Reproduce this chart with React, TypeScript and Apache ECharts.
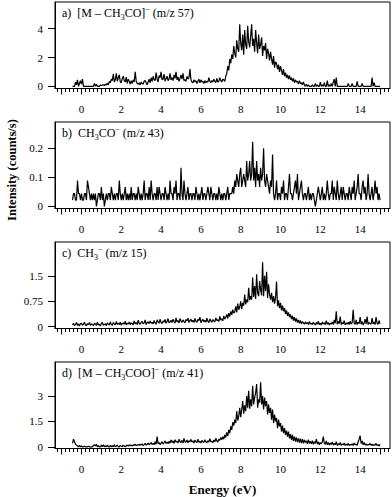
import React, { useEffect, useRef } from "react";
import * as echarts from "echarts";

// Energy grid of the spectra (eV)
const ENERGY_START = -0.45;
const ENERGY_STEP = 0.05;

// a) [M - CH3CO]- (m/z 57)
const intensityA = [
  0, 0, 0, 0.3, 0.1, 0.45, 0, 0.2, 0.4, 0.15, 0.5, 0, 0, 0, 0, 0, 0, 0, 0, 0,
  0, 0, 0.2, 0, 0.15, 0, 0, 0, 0.1, 0.05, 0.1, 0.1, 0.05, 0.15, 0.1, 0.2, 0.1, 0.35, 0.25, 0.5,
  0.4, 0.85, 0.3, 0.45, 0.9, 0.35, 0.6, 0.8, 0.3, 0.25, 0.55, 0.7, 0.4, 0.3, 0.65, 0.2, 0.5, 0.35, 0.15, 0.4,
  0.2, 0.45, 0.3, 1.0, 0.35, 0.2, 0.15, 0.25, 0.1, 0.3, 0.2, 0.15, 0.35, 0.4, 0.25, 0.1, 0.3, 0.5, 0.25, 0.6,
  0.35, 0.7, 0.45, 0.4, 0.95, 0.5, 0.3, 0.75, 0.6, 1.0, 0.45, 0.5, 0.85, 0.35, 0.55, 0.7, 0.4, 0.5, 0.9, 0.45,
  0.6, 0.4, 0.8, 0.55, 1.0, 0.45, 0.65, 0.35, 0.55, 0.8, 0.5, 0.9, 0.4, 0.45, 0.35, 0.7, 0.5, 0.6, 1.2, 0.45,
  0.3, 0.25, 0.45, 0.3, 0.4, 0.2, 0.35, 0.5, 0.25, 0.45, 0.3, 0.35, 0.2, 0.4, 0.25, 0.35, 0.3, 0.6, 0.35, 0.25,
  0.4, 0.3, 0.5, 0.35, 0.25, 0.55, 0.3, 0.35, 0.6, 0.4, 0.3, 0.5, 0.45, 0.35, 0.7, 0.9, 1.4, 1.1, 1.9, 1.6,
  2.2, 1.9, 2.8, 2.3, 2.0, 3.2, 2.6, 2.4, 4.3, 3.0, 2.5, 3.6, 2.2, 3.9, 2.9, 2.6, 4.2, 3.1, 2.7, 3.5,
  4.3, 2.8, 3.3, 2.4, 3.9, 3.0, 2.3, 3.6, 2.6, 2.9, 3.4, 2.1, 2.8, 2.5, 3.0, 1.9, 2.6, 2.3, 1.8, 2.4,
  1.9, 1.5, 2.1, 1.3, 1.7, 1.6, 1.2, 1.5, 1.0, 1.4, 1.1, 0.8, 1.2, 0.7, 0.95, 0.6, 0.8, 0.5, 0.75, 0.45,
  0.6, 0.35, 0.55, 0.25, 0.45, 0.3, 0.35, 0.15, 0.4, 0.2, 0.25, 0.1, 0.3, 0.1, 0, 0.15, 0, 0.1, 0, 0,
  0, 0.1, 0, 0, 0.2, 0, 0.1, 0, 0, 0.3, 0, 0.1, 0, 0.25, 0, 0, 0.4, 0, 0.1, 0,
  0.2, 0, 0.3, 0.5, 0, 0.6, 0, 0, 0, 0, 0, 0, 0, 0, 0, 0, 0, 0.2, 0, 0,
  0, 0.2, 0, 0, 0, 0, 0.35, 0, 0, 0, 0, 0.2, 0, 0, 0, 0, 0, 0, 0, 0,
  0, 0.6, 0, 0.25, 0, 0, 0, 0, 0, 0,
];

// b) CH3CO- (m/z 43)
const intensityB = [
  0.022, 0.044, 0.044, 0.022, 0.022, 0.089, 0.044, 0.044, 0.022, 0.044, 0.022, 0.022, 0.044, 0.044, 0.022, 0.089, 0.067, 0.044, 0.022, 0.044,
  0.022, 0.044, 0.022, 0.044, 0, 0.022, 0.044, 0.044, 0.022, 0.067, 0.022, 0.044, 0, 0.022, 0.044, 0.022, 0.044, 0.044, 0.022, 0.067,
  0.044, 0.022, 0.044, 0.022, 0.044, 0.044, 0.022, 0.089, 0.044, 0.022, 0.044, 0.022, 0.044, 0.067, 0.022, 0.044, 0.022, 0.044, 0.022, 0.067,
  0.022, 0.044, 0.044, 0.022, 0.044, 0.022, 0.067, 0.044, 0.022, 0.044, 0.022, 0.044, 0.089, 0.022, 0.044, 0.044, 0.022, 0.067, 0.022, 0.089,
  0.044, 0.022, 0.044, 0.044, 0.022, 0.067, 0.022, 0.067, 0.044, 0.022, 0.044, 0.044, 0.022, 0.067, 0.044, 0.022, 0.044, 0.022, 0.089, 0.044,
  0.044, 0.022, 0.067, 0.044, 0.089, 0.022, 0.044, 0.044, 0.022, 0.133, 0.044, 0.022, 0.089, 0.044, 0.022, 0.044, 0.067, 0.022, 0.044, 0.044,
  0.022, 0.044, 0.044, 0.022, 0.067, 0.044, 0.022, 0.044, 0.022, 0.044, 0.067, 0.022, 0.044, 0.044, 0.022, 0.044, 0.067, 0.044, 0.022, 0.067,
  0.044, 0.022, 0.044, 0.044, 0.022, 0.044, 0.022, 0.067, 0.044, 0.022, 0.044, 0.022, 0.044, 0.044, 0.022, 0.044, 0.067, 0.022, 0.044, 0.044,
  0.044, 0.067, 0.044, 0.089, 0.067, 0.111, 0.089, 0.067, 0.111, 0.133, 0.067, 0.089, 0.111, 0.089, 0.067, 0.156, 0.089, 0.111, 0.156, 0.089,
  0.111, 0.222, 0.089, 0.133, 0.067, 0.156, 0.089, 0.111, 0.067, 0.133, 0.089, 0.111, 0.2, 0.089, 0.067, 0.111, 0.089, 0.067, 0.044, 0.089,
  0.067, 0.178, 0.044, 0.022, 0.044, 0.089, 0.022, 0.044, 0.044, 0.022, 0.067, 0.044, 0.089, 0.022, 0.044, 0.044, 0.022, 0.067, 0.111, 0.044,
  0.044, 0.022, 0.044, 0.067, 0.089, 0.044, 0.111, 0.022, 0.044, 0.067, 0.089, 0.044, 0.022, 0.044, 0.044, 0.022, 0.044, 0.067, 0.022, 0.044,
  0.022, 0.044, 0.044, 0.022, 0, 0.022, 0.044, 0.067, 0.044, 0.022, 0.044, 0.067, 0.022, 0.044, 0.022, 0.044, 0.089, 0.044, 0.022, 0.044,
  0.044, 0.089, 0.022, 0.067, 0.044, 0.022, 0.089, 0.044, 0.022, 0.044, 0.067, 0.022, 0.067, 0.044, 0.022, 0.044, 0.044, 0.022, 0.067, 0.044,
  0.022, 0.067, 0.044, 0.089, 0.022, 0.044, 0.067, 0.111, 0.044, 0.044, 0.022, 0.067, 0.089, 0.044, 0.067, 0.022, 0.044, 0.111, 0.044, 0.022,
  0.044, 0.067, 0.022, 0.044, 0.089, 0.044, 0.067, 0.022, 0.044, 0.022,
];

// c) CH3- (m/z 15)
const intensityC = [
  0.05, 0.1, 0.03, 0.06, 0.12, 0.04, 0.08, 0.02, 0.09, 0.1, 0.04, 0.07, 0.13, 0.05, 0.03, 0.09, 0.06, 0.12, 0.04, 0.08,
  0.06, 0.03, 0.1, 0.08, 0.04, 0.13, 0.05, 0.07, 0.02, 0.1, 0.12, 0.04, 0.06, 0.09, 0.03, 0.11, 0.07, 0.05, 0.14, 0.06,
  0.04, 0.12, 0.08, 0.05, 0.15, 0.07, 0.1, 0.06, 0.13, 0.04, 0.09, 0.11, 0.07, 0.16, 0.05, 0.1, 0.08, 0.14, 0.06, 0.11,
  0.09, 0.05, 0.17, 0.08, 0.12, 0.06, 0.19, 0.1, 0.07, 0.13, 0.15, 0.08, 0.11, 0.2, 0.06, 0.12, 0.14, 0.09, 0.17, 0.1,
  0.13, 0.08, 0.18, 0.11, 0.07, 0.2, 0.14, 0.1, 0.22, 0.12, 0.09, 0.17, 0.13, 0.21, 0.1, 0.15, 0.24, 0.11, 0.14, 0.19,
  0.12, 0.22, 0.15, 0.1, 0.26, 0.14, 0.18, 0.11, 0.24, 0.16, 0.13, 0.2, 0.15, 0.11, 0.21, 0.17, 0.25, 0.12, 0.18, 0.22,
  0.14, 0.19, 0.12, 0.24, 0.16, 0.13, 0.21, 0.18, 0.28, 0.12, 0.17, 0.22, 0.14, 0.19, 0.13, 0.25, 0.16, 0.12, 0.23, 0.17,
  0.13, 0.21, 0.17, 0.14, 0.26, 0.18, 0.2, 0.15, 0.3, 0.19, 0.23, 0.17, 0.32, 0.22, 0.27, 0.36, 0.24, 0.4, 0.3, 0.45,
  0.35, 0.5, 0.4, 0.44, 0.6, 0.42, 0.68, 0.5, 0.58, 0.75, 0.52, 0.7, 0.62, 0.95, 0.66, 0.8, 0.72, 1.15, 0.78, 0.9,
  0.8, 1.45, 0.88, 1.2, 0.82, 1.55, 1.0, 0.9, 1.35, 1.1, 0.92, 1.9, 0.9, 1.5, 1.05, 1.62, 0.85, 1.25, 0.95, 0.8,
  1.0, 0.72, 0.9, 0.68, 0.85, 1.33, 0.6, 0.78, 0.55, 0.7, 0.48, 0.62, 0.45, 0.55, 0.38, 0.48, 0.32, 0.42, 0.28, 0.36,
  0.22, 0.32, 0.18, 0.28, 0.15, 0.24, 0.12, 0.2, 0.1, 0.18, 0.08, 0.15, 0.11, 0.07, 0.14, 0.09, 0.12, 0.06, 0.15, 0.08,
  0.1, 0.06, 0.13, 0.08, 0.05, 0.12, 0.07, 0.16, 0.06, 0.1, 0.05, 0.14, 0.08, 0.11, 0.06, 0.18, 0.07, 0.12, 0.05, 0.1,
  0.08, 0.14, 0.06, 0.2, 0.1, 0.45, 0.07, 0.15, 0.09, 0.3, 0.06, 0.12, 0.08, 0.18, 0.05, 0.11, 0.07, 0.13, 0.06, 0.16,
  0.08, 0.12, 0.5, 0.1, 0.07, 0.2, 0.06, 0.13, 0.09, 0.28, 0.07, 0.15, 0.05, 0.11, 0.22, 0.08, 0.3, 0.06, 0.12, 0.09,
  0.07, 0.25, 0.08, 0.14, 0.06, 0.28, 0.1, 0.07, 0.18, 0.08,
];

// d) [M - CH3COO]- (m/z 41)
const intensityD = [
  0.2, 0.45, 0.3, 0.15, 0.1, 0.05, 0, 0.08, 0, 0.05, 0, 0, 0.04, 0, 0, 0, 0.03, 0, 0, 0,
  0, 0.08, 0.12, 0.05, 0.15, 0, 0.06, 0, 0, 0.1, 0, 0.12, 0, 0.05, 0, 0.1, 0, 0, 0.08, 0,
  0.06, 0, 0.12, 0, 0.05, 0.1, 0, 0, 0.08, 0.04, 0, 0.1, 0.05, 0, 0.06, 0.1, 0.04, 0.12, 0.06, 0.1,
  0.05, 0.12, 0.08, 0.15, 0.06, 0.1, 0.14, 0.08, 0.16, 0.1, 0.18, 0.07, 0.13, 0.2, 0.1, 0.15, 0.22, 0.12, 0.18, 0.25,
  0.14, 0.2, 0.12, 0.3, 0.15, 0.6, 0.18, 0.25, 0.13, 0.22, 0.3, 0.16, 0.24, 0.35, 0.2, 0.28, 0.18, 0.32, 0.22, 0.4,
  0.25, 0.35, 0.2, 0.42, 0.28, 0.33, 0.22, 0.45, 0.3, 0.25, 0.38, 0.22, 0.5, 0.3, 0.27, 0.4, 0.24, 0.36, 0.3, 0.44,
  0.28, 0.35, 0.22, 0.4, 0.3, 0.25, 0.45, 0.27, 0.33, 0.22, 0.38, 0.3, 0.26, 0.42, 0.3, 0.24, 0.36, 0.28, 0.48, 0.3,
  0.32, 0.25, 0.4, 0.3, 0.5, 0.35, 0.28, 0.45, 0.38, 0.55, 0.42, 0.6, 0.45, 0.7, 0.55, 0.85, 0.65, 1.0, 0.8, 1.2,
  1.0, 1.45, 1.25, 1.6, 1.4, 2.1, 1.55, 1.8, 2.3, 1.75, 2.2, 2.7, 1.95, 2.45, 2.1, 3.0, 2.3, 3.3, 2.25, 2.8,
  2.4, 3.6, 2.5, 2.9, 3.2, 3.7, 2.3, 2.8, 2.6, 3.8, 2.5, 3.0, 2.2, 2.9, 2.4, 2.7, 1.9, 2.5, 2.0, 2.3,
  1.6, 2.2, 1.4, 1.9, 1.5, 1.7, 1.1, 1.6, 1.2, 1.4, 0.9, 1.25, 0.8, 1.1, 0.7, 0.95, 0.6, 0.9, 0.5, 0.75,
  0.4, 0.7, 0.35, 0.6, 0.3, 0.55, 0.28, 0.5, 0.25, 0.48, 0.22, 0.45, 0.2, 0.4, 0.25, 0.35, 0.18, 0.42, 0.2, 0.32,
  0.18, 0.36, 0.15, 0.3, 0.2, 0.45, 0.16, 0.28, 0.12, 0.25, 0.18, 0.3, 0.6, 0.2, 0.15, 0.35, 0.12, 0.26, 0.1, 0.22,
  0.14, 0.28, 0.1, 0.2, 0.12, 0.3, 0.08, 0.18, 0.11, 0.25, 0.09, 0.16, 0.12, 0.22, 0.08, 0.15, 0.1, 0.2, 0.07, 0.14,
  0.1, 0.18, 0.08, 0.22, 0.12, 0.15, 0.09, 0.3, 0.45, 0.65, 0.2, 0.35, 0.12, 0.25, 0.1, 0.18, 0.08, 0.14, 0.11, 0.2,
  0.09, 0.16, 0.07, 0.13, 0.1, 0.2, 0.08, 0.12, 0.06, 0.14,
];

const panelSeries = [intensityA, intensityB, intensityC, intensityD];

const panelTitles = [
  "{t|a)  [M – CH}{s|3}{t|CO]}{p|−}{t| (m/z 57)}",
  "{t|b)  CH}{s|3}{t|CO}{p|−}{t| (m/z 43)}",
  "{t|c)  CH}{s|3}{p|−}{t| (m/z 15)}",
  "{t|d)  [M – CH}{s|3}{t|COO]}{p|−}{t| (m/z 41)}",
];

const yTickValues = [
  [0, 2, 4],
  [0, 0.1, 0.2],
  [0, 0.75, 1.5],
  [0, 1.5, 3],
];
const yMin = [-0.15, -0.007, -0.055, -0.1];
const yMax = [5.85, 0.29, 2.5, 5.0];

const X_MIN = -1.33;
const X_MAX = 15.5;
const xMajorTicks = [-1, 0, 1, 2, 3, 4, 5, 6, 7, 8, 9, 10, 11, 12, 13, 14, 15];
const xTickLabels = [0, 2, 4, 6, 8, 10, 12, 14];

const xAxisTitle = "Energy (eV)";
const yAxisTitle = "Intensity (counts/s)";

const FONT = "'Liberation Serif', 'Times New Roman', serif";
const W = 392;
const H = 497;
const GRID_LEFT = 55;
const GRID_RIGHT = 2;
const PANEL_TOP0 = 2;
const PANEL_PITCH = 120;
const PANEL_H = 86.5;

function minorTickValues(): number[] {
  const out: number[] = [];
  for (let i = -6; i <= 77; i++) {
    const v = Math.round(i * 0.2 * 100) / 100;
    if (Math.abs(v - Math.round(v)) > 1e-6 && v > X_MIN && v < X_MAX) out.push(v);
  }
  return out;
}

export default function App() {
  const ref = useRef<HTMLDivElement>(null);

  useEffect(() => {
    document.body.style.margin = "0";
    if (!ref.current) return;
    const chart = echarts.init(ref.current, undefined, { renderer: "svg" });
    const minors = minorTickValues();

    const grids: any[] = [];
    const xAxes: any[] = [];
    const yAxes: any[] = [];
    const series: any[] = [];
    const graphics: any[] = [];

    panelSeries.forEach((vals, k) => {
      const top = PANEL_TOP0 + PANEL_PITCH * k;
      grids.push({
        left: GRID_LEFT,
        right: GRID_RIGHT,
        top,
        height: PANEL_H,
        show: true,
        borderColor: "#000",
        borderWidth: 1,
        backgroundColor: "transparent",
        outerBoundsMode: "none",
        containLabel: false,
      });
      xAxes.push({
        type: "value",
        gridIndex: k,
        position: "bottom",
        min: X_MIN,
        max: X_MAX,
        axisLine: { show: true, onZero: false, lineStyle: { color: "#000", width: 1 } },
        axisTick: {
          show: true,
          customValues: xMajorTicks,
          length: 6,
          lineStyle: { color: "#000", width: 1 },
        },
        axisLabel: {
          show: true,
          customValues: xTickLabels,
          margin: 15,
          fontSize: 11,
          fontFamily: FONT,
          color: "#000",
        },
        splitLine: { show: false },
      });
      xAxes.push({
        type: "value",
        gridIndex: k,
        position: "bottom",
        min: X_MIN,
        max: X_MAX,
        axisLine: { show: false, onZero: false },
        axisTick: {
          show: true,
          customValues: minors,
          length: 3.5,
          lineStyle: { color: "#000", width: 1 },
        },
        axisLabel: { show: false },
        splitLine: { show: false },
      });
      yAxes.push({
        type: "value",
        gridIndex: k,
        position: "left",
        min: yMin[k],
        max: yMax[k],
        axisLine: { show: true, onZero: false, lineStyle: { color: "#000", width: 1 } },
        axisTick: {
          show: true,
          customValues: yTickValues[k],
          length: 7,
          lineStyle: { color: "#000", width: 1 },
        },
        axisLabel: {
          show: true,
          customValues: yTickValues[k],
          margin: 12,
          fontSize: 11,
          fontFamily: FONT,
          color: "#000",
        },
        splitLine: { show: false },
      });
      series.push({
        type: "line",
        xAxisIndex: 2 * k,
        yAxisIndex: k,
        showSymbol: false,
        symbol: "none",
        lineStyle: { color: "#000", width: 1.2 },
        data: vals.map((v, i) => [
          Math.round((ENERGY_START + i * ENERGY_STEP) * 100) / 100,
          v,
        ]),
        silent: true,
      });
      graphics.push({
        type: "text",
        x: 62,
        y: top + 11,
        style: {
          text: panelTitles[k],
          verticalAlign: "middle",
          align: "left",
          fill: "#000",
          fontFamily: FONT,
          fontSize: 12,
          rich: {
            t: { fontFamily: FONT, fontSize: 12, lineHeight: 16, fill: "#000" },
            s: { fontFamily: FONT, fontSize: 8, lineHeight: 8, verticalAlign: "bottom", fill: "#000" },
            p: { fontFamily: FONT, fontSize: 8, lineHeight: 8, verticalAlign: "top", fill: "#000" },
          },
        },
      });
    });

    graphics.push({
      type: "text",
      x: 222.5,
      y: 489,
      style: {
        text: xAxisTitle,
        align: "center",
        verticalAlign: "middle",
        fontFamily: FONT,
        fontSize: 13,
        fontWeight: "bold",
        fill: "#000",
      },
    });
    graphics.push({
      type: "text",
      x: 12,
      y: 170,
      rotation: Math.PI / 2,
      style: {
        text: yAxisTitle,
        align: "center",
        verticalAlign: "middle",
        fontFamily: FONT,
        fontSize: 12.5,
        fontWeight: "bold",
        fill: "#000",
      },
    });

    chart.setOption({
      animation: false,
      backgroundColor: "#fff",
      grid: grids,
      xAxis: xAxes,
      yAxis: yAxes,
      series,
      graphic: graphics,
      tooltip: { show: false },
    });

    return () => {
      chart.dispose();
    };
  }, []);

  return (
    <div
      ref={ref}
      style={{ position: "absolute", left: 0, top: 0, width: W, height: H }}
    />
  );
}
